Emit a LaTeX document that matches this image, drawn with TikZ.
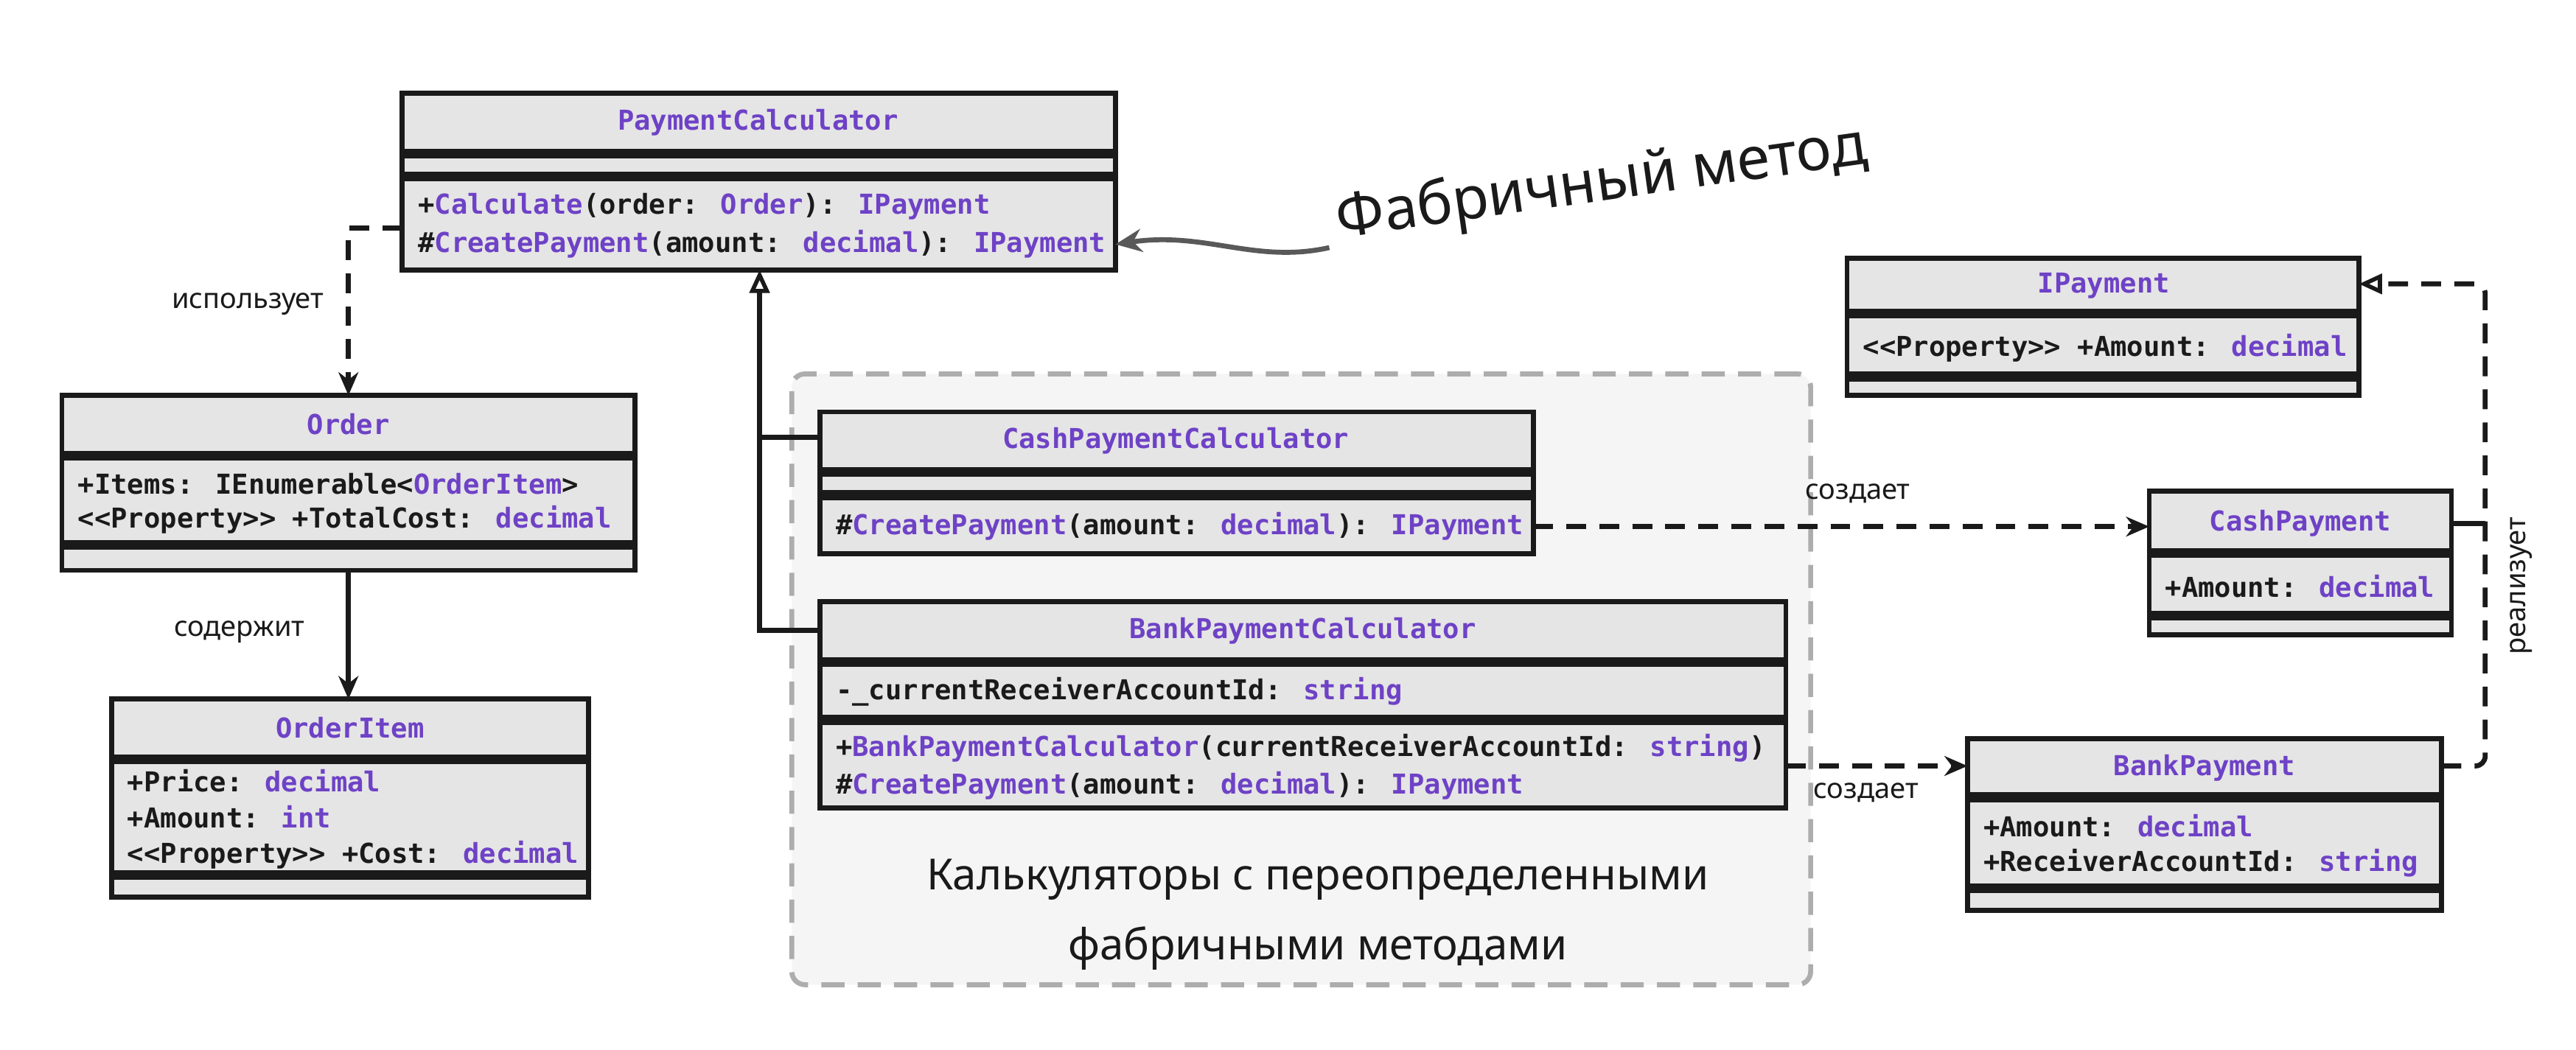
\documentclass[tikz,border=0pt]{standalone}
\usepackage{fontspec}
\setmainfont{Noto Sans}
\newfontfamily\monof{DejaVu Sans Mono}
\usetikzlibrary{arrows.meta}
\definecolor{purp}{HTML}{6E42C6}
\definecolor{ink}{HTML}{1A1A1A}
\newcommand\pp[1]{\textcolor{purp}{#1}}
\tikzset{
 comp/.style={draw=ink,line width=3pt,fill=black!10,anchor=north west,inner sep=0pt,outer sep=0pt},
 mt/.style={anchor=west,font=\monof\bfseries\fontsize{16.6}{18}\selectfont,text=ink,inner sep=0pt},
 hd/.style={anchor=center,font=\monof\bfseries\fontsize{16.6}{18}\selectfont,text=purp,inner sep=0pt},
 lbl/.style={font=\fontsize{17}{20}\selectfont,text=ink},
 conn/.style={draw=ink,line width=3pt},
 dsh/.style={conn,dash pattern=on 12pt off 8pt},
 tip/.style={-{Stealth[length=14pt,width=12pt]}},
 tri/.style={-{Triangle[open,length=14pt,width=12pt,line width=2.5pt]}},
}
\newcommand\cmp[5]{\node[comp,minimum width=#4-#2-3,minimum height=#5-#3-3] (#1) at (#2+1.5,#3+1.5) {};}
\begin{document}
\begin{tikzpicture}[x=1pt,y=-1pt]
\useasboundingbox[fill=white] (0,0) rectangle (1560,636);
% group
\node[draw=black!32,fill=black!4,line width=3pt,dash pattern=on 14pt off 8pt,rounded corners=8pt,minimum width=617,minimum height=370,anchor=north west,outer sep=0pt] (grp) at (479.5,226.5) {};
\node[font=\fontsize{26}{42}\selectfont,text=ink,align=center] (grpl) at (798,554) {Калькуляторы с переопределенными\\фабричными методами};
% PaymentCalculator
\cmp{pch}{242}{55}{677}{93}\cmp{pca}{242}{93}{677}{107}\cmp{pcm}{242}{107}{677}{165}
\node[hd] (pct) at (459,74) {PaymentCalculator};
\node[mt] (pc1) at (253,125) {+\pp{Calculate}(order: \pp{Order}): \pp{IPayment}};
\node[mt] (pc2) at (253,148) {\#\pp{CreatePayment}(amount: \pp{decimal}): \pp{IPayment}};
% Order
\cmp{oh}{36}{238}{386}{276}\cmp{oa}{36}{276}{386}{330}\cmp{om}{36}{330}{386}{347}
\node[hd] (ot) at (211,257) {Order};
\node[mt] (o1) at (47,293) {+Items: IEnumerable<\pp{OrderItem}>};
\node[mt] (o2) at (47,315) {<<Property>> +TotalCost: \pp{decimal}};
% OrderItem
\cmp{ih}{66}{422}{358}{460}\cmp{ia}{66}{460}{358}{530}\cmp{im}{66}{530}{358}{545}
\node[hd] (it) at (212,441) {OrderItem};
\node[mt] (i1) at (77,473) {+Price: \pp{decimal}};
\node[mt] (i2) at (77,495) {+Amount: \pp{int}};
\node[mt] (i3) at (77,518) {<<Property>> +Cost: \pp{decimal}};
% CashPaymentCalculator
\cmp{ch}{495}{248}{930}{286}\cmp{ca}{495}{286}{930}{300}\cmp{cm}{495}{300}{930}{337}
\node[hd] (ct) at (712,267) {CashPaymentCalculator};
\node[mt] (c1) at (506,319) {\#\pp{CreatePayment}(amount: \pp{decimal}): \pp{IPayment}};
% BankPaymentCalculator
\cmp{bh}{495}{363}{1083}{401}\cmp{ba}{495}{401}{1083}{436}\cmp{bm}{495}{436}{1083}{491}
\node[hd] (bt) at (789,382) {BankPaymentCalculator};
\node[mt] (b1) at (506,419) {-\_currentReceiverAccountId: \pp{string}};
\node[mt] (b2) at (506,453) {+\pp{BankPaymentCalculator}(currentReceiverAccountId: \pp{string})};
\node[mt] (b3) at (506,476) {\#\pp{CreatePayment}(amount: \pp{decimal}): \pp{IPayment}};
% IPayment
\cmp{iph}{1117}{155}{1430}{190}\cmp{ipa}{1117}{190}{1430}{228}\cmp{ipm}{1117}{228}{1430}{241}
\node[hd] (ipt) at (1274,173) {IPayment};
\node[mt] (ip1) at (1128,211) {<<Property>> +Amount: \pp{decimal}};
% CashPayment
\cmp{cph}{1300}{296}{1486}{335}\cmp{cpa}{1300}{335}{1486}{373}\cmp{cpm}{1300}{373}{1486}{386}
\node[hd] (cpt) at (1393,317) {CashPayment};
\node[mt] (cp1) at (1311,355) {+Amount: \pp{decimal}};
% BankPayment
\cmp{bph}{1190}{446}{1480}{483}\cmp{bpa}{1190}{483}{1480}{538}\cmp{bpm}{1190}{538}{1480}{553}
\node[hd] (bpt) at (1335,465) {BankPayment};
\node[mt] (bp1) at (1201,500) {+Amount: \pp{decimal}};
\node[mt] (bp2) at (1201,523) {+ReceiverAccountId: \pp{string}};
% connectors
\draw[dsh,tip] (pcm.west|-0,138) -- (211,138) -- (oh.north-|211,0);
\node[lbl] (l1) at (150,184) {использует};
\draw[conn,tip] (om.south-|211,0) -- (ih.north-|211,0);
\node[lbl] (l2) at (145,383) {содержит};
\coordinate (inh) at (460,382);
\draw[conn,tri] (bh.west|-inh) -- (inh) -- (pcm.south-|inh);
\draw[conn] (ch.west|-0,265) -- (460,265);
\draw[dsh,tip] (cm.east|-0,319) -- (cph.west|-0,319);
\node[lbl] (l3) at (1125,299) {создает};
\draw[dsh,tip] (bm.east|-0,464) -- (bph.west|-0,464);
\node[lbl] (l4) at (1130,480) {создает};
\coordinate (rz) at (1505,464);
\draw[dsh,tri,rounded corners=6pt] (bph.east|-rz) -- (rz) -- (1505,172) -- (iph.east|-0,172);
\draw[conn] (cph.east|-0,317) -- (1505,317);
\node[lbl,rotate=90] (l5) at (1527,355) {реализует};
\node[font=\fontsize{36}{40}\selectfont,text=ink,rotate=8,inner sep=0pt] (fm) at (970,112) {Фабричный метод};
\draw[draw=black!65,line width=3pt,-{Stealth[length=16pt,width=14pt]}] (805,150) .. controls (760,160) and (730,140) .. (pcm.east|-0,148);
\end{tikzpicture}
\end{document}
